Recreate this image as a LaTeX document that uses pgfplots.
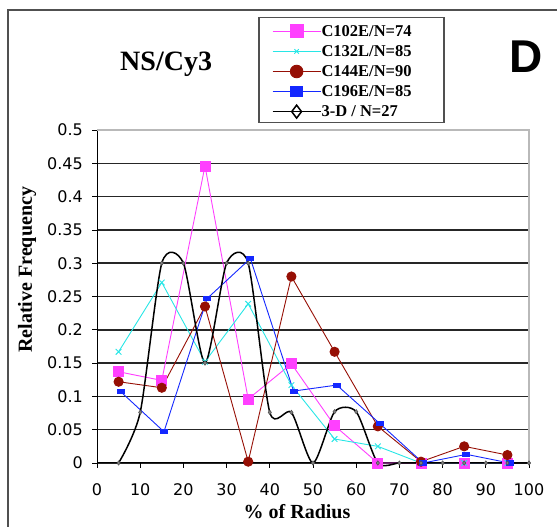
\documentclass[border=0pt]{standalone}
\usepackage{fontspec}
\setmainfont{Liberation Serif}
\newfontfamily\dejavu{DejaVu Sans}
\newfontfamily\arialfont{Liberation Sans}
\usepackage{pgfplots}
\pgfplotsset{compat=1.18}
\definecolor{cMag}{RGB}{255,64,255}
\definecolor{cCyan}{RGB}{40,230,230}
\definecolor{cRed}{RGB}{150,15,5}
\definecolor{cBlue}{RGB}{20,40,255}
\definecolor{frameGray}{RGB}{80,80,80}

\begin{document}
\begin{tikzpicture}[x=1pt,y=1pt]
\draw[frameGray, line width=1.5pt] (8,-10) -- (8,517) -- (570,517);
\begin{axis}[
  at={(97pt,64pt)}, anchor=south west,
  scale only axis, width=432pt, height=333pt,
  xmin=0, xmax=100, ymin=0, ymax=0.5,
  clip=false,
  axis x line*=bottom, axis y line*=left,
  axis line style={-, black, line width=1pt},
  xtick={0,10,20,30,40,50,60,70,80,90,100},
  ytick={0,0.05,0.1,0.15,0.2,0.25,0.3,0.35,0.4,0.45,0.5},
  yticklabels={0,0.05,0.1,0.15,0.2,0.25,0.3,0.35,0.4,0.45,0.5},
  tick align=outside,
  major tick length=5pt,
  tick style={black, line width=0.8pt},
  tick label style={font=\dejavu\fontsize{16}{16}\selectfont, /pgf/number format/assume math mode=true},
  yticklabel style={anchor=east, inner sep=0pt, xshift=-9pt},
  xticklabel style={anchor=north, inner sep=0pt, yshift=-15pt},
  ymajorgrids,
  major grid style={black!85, line width=1.5pt},
  xlabel={\% of Radius},
  xlabel style={font=\bfseries\fontsize{20}{20}\selectfont, at={(axis description cs:0.463,-0.1667)}, anchor=base},
  ylabel={Relative Frequency},
  ylabel style={font=\bfseries\fontsize{20}{20}\selectfont, at={(axis description cs:-0.162,0.58)}, anchor=center},
  title={NS/Cy3},
  title style={font=\bfseries\fontsize{28}{28}\selectfont, at={(axis description cs:0.160,1.160)}, anchor=base},
  legend cell align=left,
  legend style={at={(axis description cs:0.405,1.327)}, anchor=north west, draw=none, fill=none,
    inner sep=0pt, row sep=0pt, font=\bfseries\fontsize{16.5}{16.5}\selectfont,
    nodes={inner xsep=0.5pt, inner ysep=3.8pt},
    /tikz/every even column/.append style={column sep=0pt}},
  legend image code/.code={\draw[mark repeat=2,mark phase=2,#1] plot coordinates {(0pt,0pt) (24pt,0pt) (48pt,0pt)};},
]
\addplot[cMag, line width=0.9pt, mark=square*, mark size=5pt, mark options={solid, fill=cMag}, forget plot]
  coordinates {(5,0.137)(15,0.124)(25,0.446)(35,0.096)(45,0.149)(55,0.056)(65,0)(75,0)(85,0)(95,0)};
\addplot[cCyan, line width=0.9pt, mark=x, mark size=4pt, mark options={solid, line width=0.9pt}, forget plot]
  coordinates {(5,0.167)(15,0.271)(25,0.152)(35,0.239)(45,0.117)(55,0.036)(65,0.025)(75,0)(85,0)(95,0)};
\addplot[cRed, line width=0.9pt, mark=*, mark size=4.6pt, mark options={solid, fill=cRed}, forget plot]
  coordinates {(5,0.122)(15,0.113)(25,0.235)(35,0.002)(45,0.28)(55,0.167)(65,0.055)(75,0.002)(85,0.025)(95,0.012)};
\addplot[cBlue, line width=0.9pt, mark=square*, mark size=2.3pt, mark options={solid, fill=cBlue, xscale=1.5, yscale=0.9}, forget plot]
  coordinates {(5.5,0.107)(15.5,0.047)(25.5,0.247)(35.5,0.307)(45.5,0.108)(55.5,0.117)(65.5,0.059)(75.5,0)(85.5,0.013)(95.5,0)};
\addplot[black, line width=1.5pt, smooth, tension=0.42, mark=diamond*, mark size=2.2pt, mark options={solid, fill=gray, draw=gray!60!black, line width=0.5pt}, forget plot]
  coordinates {(5,0)(10,0.076)(15,0.3)(20,0.3)(25,0.15)(30,0.3)(35,0.3)(40,0.076)(45,0.076)(50,0)(55,0.077)(60,0.077)(65,0)(70,0)(75,0)(80,0)(85,0)(90,0)(95,0)(100,0)};
\draw[gray!55, line width=1.5pt] (rel axis cs:0,1) -- (rel axis cs:1,1) -- (rel axis cs:1,0);
\addlegendimage{cMag, line width=0.9pt, mark=square*, mark size=6.5pt, mark options={solid, fill=cMag}}
\addlegendentry{C102E/N=74}
\addlegendimage{cCyan, line width=0.9pt, mark=x, mark size=3.2pt, mark options={solid, line width=0.9pt}}
\addlegendentry{C132L/N=85}
\addlegendimage{cRed, line width=0.9pt, mark=*, mark size=6.3pt, mark options={solid, fill=cRed}}
\addlegendentry{C144E/N=90}
\addlegendimage{cBlue, line width=0.9pt, mark=square*, mark size=6pt, mark options={solid, fill=cBlue, yscale=0.85}}
\addlegendentry{C196E/N=85}
\addlegendimage{black, line width=0.9pt, mark=diamond, mark size=6.5pt, mark options={solid, fill=white, line width=1.5pt}}
\addlegendentry{3-D / N=27}
\end{axis}
\draw[frameGray, line width=1.2pt] (259,404.3) rectangle (444,509.7);
\node[anchor=base, font=\arialfont\bfseries\fontsize{46}{46}\selectfont, inner sep=0pt] at (526,454.3) {D};
\pgfresetboundingbox
\useasboundingbox (0,0) rectangle (557,527);
\end{tikzpicture}
\end{document}
